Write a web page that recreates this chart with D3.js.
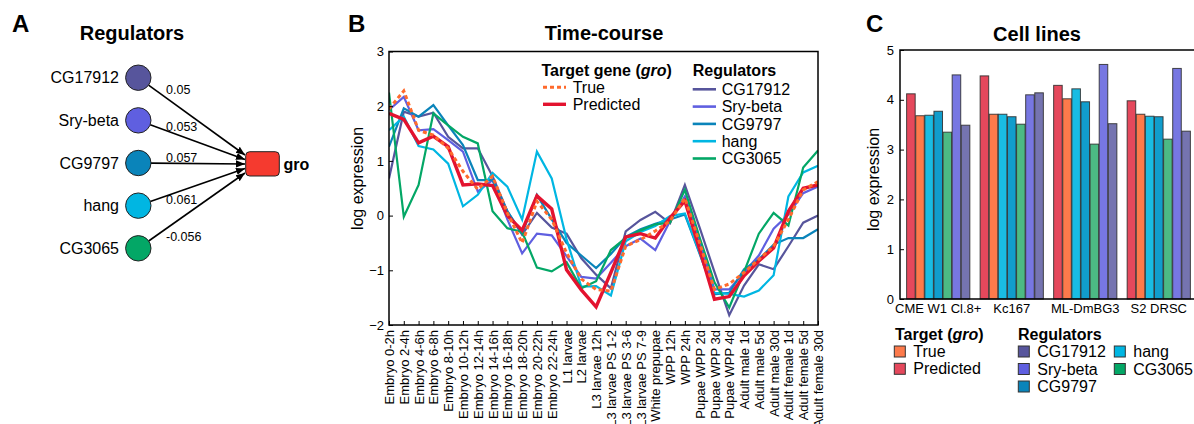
<!DOCTYPE html>
<html><head><meta charset="utf-8">
<script src="https://cdn.jsdelivr.net/npm/d3@7"></script>
<style>
body{margin:0;background:#fff;}
svg text{font-family:"Liberation Sans",Arial,Helvetica,sans-serif;fill:#000;}
</style></head>
<body><svg id="chart" width="1194" height="424"></svg>
<script>
// ---------------- DATA ----------------
const regulators = ["CG17912","Sry-beta","CG9797","hang","CG3065"];
const weights = ["0.05","0.053","0.057","0.061","-0.056"];
const targetName = "gro";

const timepoints = ["Embryo 0-2h","Embryo 2-4h","Embryo 4-6h","Embryo 6-8h","Embryo 8-10h","Embryo 10-12h",
 "Embryo 12-14h","Embryo 14-16h","Embryo 16-18h","Embryo 18-20h","Embryo 20-22h","Embryo 22-24h",
 "L1 larvae","L2 larvae","L3 larvae 12h","L3 larvae PS 1-2","L3 larvae PS 3-6","L3 larvae PS 7-9",
 "White prepupae","WPP 12h","WPP 24h","Pupae WPP 2d","Pupae WPP 3d","Pupae WPP 4d",
 "Adult male 1d","Adult male 5d","Adult male 30d","Adult female 1d","Adult female 5d","Adult female 30d"];
const yTicksB = [-2,-1,0,1,2,3];

const groTrue      = [1.95,2.28,1.56,1.47,1.23,0.81,0.48,0.72,0.05,-0.5,0.26,-0.07,-0.68,-1.16,-1.35,-1.38,-0.56,-0.44,-0.28,-0.1,0.32,-0.5,-1.35,-1.25,-1.04,-0.8,-0.56,-0.07,0.47,0.62];
const groPredicted = [1.87,1.76,1.33,1.45,1.26,0.56,0.58,0.55,0.0,-0.27,0.36,0.12,-0.99,-1.36,-1.67,-1.04,-0.39,-0.33,-0.41,-0.04,0.27,-0.62,-1.53,-1.48,-1.1,-0.83,-0.59,0.08,0.5,0.56];
const cg17912Expr  = [0.68,1.9,1.81,1.88,1.44,1.23,1.23,0.72,0.08,-0.35,0.05,-0.22,-0.33,-0.78,-1.08,-1.33,-0.29,-0.08,0.07,-0.14,0.56,-0.22,-1.03,-1.82,-1.28,-0.89,-0.98,-0.56,-0.13,0.0];
const sryBetaExpr  = [1.93,2.17,1.56,1.58,1.38,1.17,0.44,0.65,-0.07,-0.69,-0.33,-0.36,-0.74,-1.12,-1.15,-0.86,-0.56,-0.42,-0.63,-0.1,0.35,-0.47,-1.35,-1.35,-1.04,-0.73,-0.24,0.02,0.41,0.53];
const cg9797Expr   = [1.26,1.96,1.81,2.02,1.65,1.29,0.65,0.65,0.08,-0.33,0.38,-0.07,-0.5,-0.73,-0.96,-0.7,-0.39,-0.25,-0.15,-0.07,0.02,-0.7,-1.44,-1.41,-0.98,-0.8,-0.53,-0.41,-0.41,-0.25];
const hangExpr     = [1.56,1.81,1.27,1.21,0.95,0.17,0.38,0.78,0.53,-0.07,1.17,0.68,-0.43,-1.3,-1.29,-1.46,-0.47,-0.3,-0.19,-0.01,0.04,-0.68,-1.41,-1.43,-1.48,-1.37,-1.09,0.35,0.79,0.91];
const cg3065Expr   = [2.25,-0.02,0.56,1.87,1.65,1.44,1.32,0.08,-0.23,-0.3,-0.95,-1.02,-0.85,-1.33,-1.2,-0.63,-0.41,-0.27,-0.16,-0.13,0.47,-0.4,-1.22,-1.68,-1.03,-0.33,0.05,-0.18,0.88,1.19];

const cellLines = ["CME W1 Cl.8+","Kc167","ML-DmBG3","S2 DRSC"];
const yTicksC = [0,1,2,3,4,5];
const cellPredicted = [4.12,4.48,4.29,3.98];
const cellTrue      = [3.68,3.71,4.02,3.71];
const cellHang      = [3.69,3.71,4.22,3.67];
const cellCG9797    = [3.77,3.66,3.96,3.66];
const cellCG3065    = [3.35,3.51,3.11,3.21];
const cellSryBeta   = [4.5,4.1,4.71,4.63];
const cellCG17912   = [3.49,4.14,3.52,3.37];

// ---------------- STYLE ----------------
const col = {
  "CG17912":"#57559c","Sry-beta":"#5f5fe0","CG9797":"#0a84ba","hang":"#00b6e2","CG3065":"#03a766",
  "True":"#ff6a2c","Predicted":"#e3132f"
};
const barCol = {
  "Predicted":"#e5485c","True":"#fd7a4b","hang":"#19bce3","CG9797":"#119dcc","CG3065":"#4cba84",
  "Sry-beta":"#7777e2","CG17912":"#7574b0"
};
const svg = d3.select("#chart");

// ================= PANEL A =================
const gA = svg.append("g");
gA.append("text").attr("x",12).attr("y",32).attr("font-size",24).attr("font-weight","bold").text("A");
gA.append("text").attr("x",132).attr("y",40).attr("font-size",20).attr("font-weight","bold")
  .attr("text-anchor","middle").text("Regulators");

const regY = d3.scalePoint().domain(regulators).range([77.7,248.3]);
const tipY = d3.scalePoint().domain(regulators).range([155,173]);
const cx = 138.3, r = 12.7, tgtX = 245.7, tipX = 245;

svg.append("defs").append("marker").attr("id","arr").attr("viewBox","0 0 10 10")
  .attr("refX",10).attr("refY",5).attr("markerWidth",9).attr("markerHeight",9)
  .attr("markerUnits","userSpaceOnUse").attr("orient","auto")
  .append("path").attr("d","M0,1 L10,5 L0,9 Z").attr("fill","#000");

regulators.forEach((g,i)=>{
  const cy = regY(g), ty = tipY(g);
  const dx = tipX-cx, dy = ty-cy, L = Math.hypot(dx,dy);
  gA.append("line").attr("x1",cx+r*dx/L).attr("y1",cy+r*dy/L).attr("x2",tipX).attr("y2",ty)
    .attr("stroke","#000").attr("stroke-width",1.6).attr("marker-end","url(#arr)");
  let ly = cy + 0.16*(ty-cy);
  if (Math.abs(ty-cy) < 5) ly -= 6;
  gA.append("text").attr("x",166).attr("y",ly).attr("dy","0.35em").attr("font-size",12.5).text(weights[i]);
});
regulators.forEach(g=>{
  const cy = regY(g);
  gA.append("circle").attr("cx",cx).attr("cy",cy).attr("r",r).attr("fill",col[g])
    .attr("stroke","#222").attr("stroke-width",1);
  gA.append("text").attr("x",119).attr("y",cy).attr("dy","0.35em").attr("text-anchor","end")
    .attr("font-size",16).text(g);
});
gA.append("rect").attr("x",tgtX).attr("y",151.7).attr("width",33.6).attr("height",24.3).attr("rx",4)
  .attr("fill","#f53a2f").attr("stroke","#222").attr("stroke-width",1);
gA.append("text").attr("x",283.5).attr("y",164).attr("dy","0.35em").attr("font-size",16)
  .attr("font-weight","bold").text(targetName);

// ================= PANEL B =================
const gB = svg.append("g");
const bL=389, bR=818, bT=51.5, bB=325;
gB.append("text").attr("x",348).attr("y",32).attr("font-size",24).attr("font-weight","bold").text("B");
gB.append("text").attr("x",604).attr("y",40).attr("font-size",20).attr("font-weight","bold")
  .attr("text-anchor","middle").text("Time-course");

const xB = d3.scalePoint().domain(timepoints).range([bL,bR]);
const yB = d3.scaleLinear().domain([-2,3]).range([bB,bT]);

svg.select("defs").append("clipPath").attr("id","clipB").append("rect")
  .attr("x",bL).attr("y",bT).attr("width",bR-bL).attr("height",bB-bT);

const line = d3.line().x((d,i)=>xB(timepoints[i])).y(d=>yB(d));
const lineG = gB.append("g").attr("clip-path","url(#clipB)");
const regSeries = [["CG17912",cg17912Expr],["Sry-beta",sryBetaExpr],["CG9797",cg9797Expr],["hang",hangExpr],["CG3065",cg3065Expr]];
regSeries.forEach(([n,v])=>{
  lineG.append("path").datum(v).attr("d",line).attr("fill","none").attr("stroke",col[n])
    .attr("stroke-width",2.2).attr("stroke-linejoin","miter");
});
lineG.append("path").datum(groPredicted).attr("d",line).attr("fill","none").attr("stroke",col.Predicted)
  .attr("stroke-width",3.4);
lineG.append("path").datum(groTrue).attr("d",line).attr("fill","none").attr("stroke",col.True)
  .attr("stroke-width",3).attr("stroke-dasharray","4,3");

// axes
const axL = gB.append("g").attr("transform",`translate(${bL},0)`)
  .call(d3.axisLeft(yB).tickValues(yTicksB).tickSize(-4).tickSizeOuter(0).tickPadding(5).tickFormat(d3.format("d")));
axL.select(".domain").remove();
axL.selectAll("text").attr("font-size",13).style("font-family","Liberation Sans, Arial, sans-serif");
const axBt = gB.append("g").attr("transform",`translate(0,${bB})`)
  .call(d3.axisBottom(xB).tickSize(-4).tickSizeOuter(0).tickPadding(5));
axBt.select(".domain").remove();
axBt.selectAll("text").attr("font-size",13).attr("y",0).attr("x",-5).attr("dy","0.35em")
  .style("text-anchor","end").style("font-family","Liberation Sans, Arial, sans-serif")
  .attr("transform","rotate(-90)");
gB.append("rect").attr("x",bL).attr("y",bT).attr("width",bR-bL).attr("height",bB-bT)
  .attr("fill","none").attr("stroke","#000").attr("stroke-width",1.5);
gB.append("text").attr("transform",`translate(357,178.5) rotate(-90)`).attr("text-anchor","middle")
  .attr("dy","0.35em").attr("font-size",16).text("log expression");

// legend B
const lgB = gB.append("g");
const t1 = lgB.append("text").attr("x",541.5).attr("y",75.7).attr("font-size",16).attr("font-weight","bold");
t1.append("tspan").text("Target gene (");
t1.append("tspan").attr("font-style","italic").text(targetName);
t1.append("tspan").text(")");
[["True",col.True,"4,3",3],["Predicted",col.Predicted,null,3.4]].forEach(([n,c,da,w],i)=>{
  const yy = 87.3 + i*17;
  lgB.append("line").attr("x1",543).attr("x2",566).attr("y1",yy).attr("y2",yy).attr("stroke",c)
    .attr("stroke-width",w).attr("stroke-dasharray",da);
  lgB.append("text").attr("x",572.7).attr("y",yy).attr("dy","0.35em").attr("font-size",16).text(n);
});
lgB.append("text").attr("x",692.7).attr("y",75.7).attr("font-size",16).attr("font-weight","bold").text("Regulators");
regulators.forEach((n,i)=>{
  const yy = 89.3 + i*17.3;
  lgB.append("line").attr("x1",692.7).attr("x2",716).attr("y1",yy).attr("y2",yy).attr("stroke",col[n]).attr("stroke-width",2.6);
  lgB.append("text").attr("x",721.7).attr("y",yy).attr("dy","0.35em").attr("font-size",16).text(n);
});

// ================= PANEL C =================
const gC = svg.append("g");
const cL=900, cR=1197, cT=50, cB=299;
gC.append("text").attr("x",866).attr("y",32).attr("font-size",24).attr("font-weight","bold").text("C");
gC.append("text").attr("x",1037).attr("y",40.5).attr("font-size",20).attr("font-weight","bold")
  .attr("text-anchor","middle").text("Cell lines");

const barSeries = [["Predicted",cellPredicted],["True",cellTrue],["hang",cellHang],["CG9797",cellCG9797],
  ["CG3065",cellCG3065],["Sry-beta",cellSryBeta],["CG17912",cellCG17912]];
const x0 = d3.scaleBand().domain(cellLines).range([cL,cR]).paddingInner(0.14).paddingOuter(0.09);
const x1 = d3.scaleBand().domain(barSeries.map(d=>d[0])).range([0,x0.bandwidth()]).paddingInner(0.06);
const yC = d3.scaleLinear().domain([0,5]).range([cB,cT]);

cellLines.forEach((cl,gi)=>{
  const g = gC.append("g").attr("transform",`translate(${x0(cl)},0)`);
  barSeries.forEach(([n,v])=>{
    g.append("rect").attr("x",x1(n)).attr("y",yC(v[gi])).attr("width",x1.bandwidth()).attr("height",yC(0)-yC(v[gi]))
      .attr("fill",barCol[n]).attr("stroke","#2a2a2a").attr("stroke-width",1).attr("stroke-opacity",0.85);
  });
});
const axCL = gC.append("g").attr("transform",`translate(${cL},0)`)
  .call(d3.axisLeft(yC).tickValues(yTicksC).tickSize(-4).tickSizeOuter(0).tickPadding(6).tickFormat(d3.format("d")));
axCL.select(".domain").remove();
axCL.selectAll("text").attr("font-size",13).style("font-family","Liberation Sans, Arial, sans-serif");
const axCB = gC.append("g").attr("transform",`translate(0,${cB})`)
  .call(d3.axisBottom(x0).tickSize(0).tickPadding(5));
axCB.select(".domain").remove();
axCB.selectAll("text").attr("font-size",13).style("font-family","Liberation Sans, Arial, sans-serif");
gC.append("rect").attr("x",cL).attr("y",cT).attr("width",cR-cL).attr("height",cB-cT)
  .attr("fill","none").attr("stroke","#000").attr("stroke-width",1.5);
gC.append("text").attr("transform",`translate(873.5,179.5) rotate(-90)`).attr("text-anchor","middle")
  .attr("dy","0.35em").attr("font-size",16).text("log expression");

// legend C
const lgC = gC.append("g");
const t2 = lgC.append("text").attr("x",895).attr("y",339.5).attr("font-size",16).attr("font-weight","bold");
t2.append("tspan").text("Target (");
t2.append("tspan").attr("font-style","italic").text(targetName);
t2.append("tspan").text(")");
function swatch(x,y,c,label){
  lgC.append("rect").attr("x",x).attr("y",y).attr("width",11).attr("height",11).attr("fill",c)
    .attr("stroke","#333").attr("stroke-width",1);
  lgC.append("text").attr("x",x+19).attr("y",y+5.5).attr("dy","0.35em").attr("font-size",16).text(label);
}
swatch(894.3,346,barCol.True,"True");
swatch(894.3,363.3,barCol.Predicted,"Predicted");
lgC.append("text").attr("x",1018).attr("y",339.5).attr("font-size",16).attr("font-weight","bold").text("Regulators");
regulators.forEach((n,i)=>{
  const colIdx = i<3?0:1, rowIdx = i<3?i:i-3;
  swatch(1018.3 + colIdx*96, 346 + rowIdx*17.5, col[n], n);
});
</script></body></html>
